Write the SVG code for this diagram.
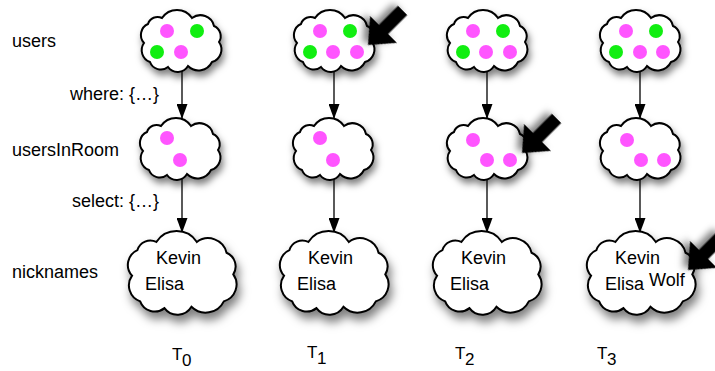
<svg xmlns="http://www.w3.org/2000/svg" xmlns:xlink="http://www.w3.org/1999/xlink" width="715" height="371" viewBox="0 0 715 371">
<style>
text{font-family:"Liberation Sans",Arial,sans-serif;font-size:18px;fill:#000}
.t{font-size:17px}
.cloud{fill:#fff;stroke:#000;stroke-width:2}
.p{fill:#ff55ff}
.g{fill:#11ee11}
.conn{stroke:#000;stroke-width:1.3;fill:none}
.big{fill:#000}
</style>
<defs>
<filter id="sh" x="-30%" y="-30%" width="170%" height="180%">
<feDropShadow dx="2" dy="5" stdDeviation="3.5" flood-color="#000" flood-opacity="0.5"/>
</filter>
<path id="cl" vector-effect="non-scaling-stroke" d="M-33,-17 A10,10 0 0 1 -19,-23 A18,18 0 0 1 11,-23 A14,14 0 0 1 33,-15 A11,11 0 0 1 38,1 A13,13 0 0 1 31,21 A15,15 0 0 1 7,25 A12,12 0 0 1 -13,26 A11.5,11.5 0 0 1 -31,21 A12.5,12.5 0 0 1 -37,2 A12,12 0 0 1 -33,-17 Z"/>
<marker id="ah" markerWidth="15" markerHeight="11" refX="15" refY="5.5" orient="auto" markerUnits="userSpaceOnUse">
<path d="M0,0 L15,5.5 L0,11 Z" fill="#000"/>
</marker>
<polygon id="bigarrow" points="0,0 -22,-19 -22,-6.5 -49,-6.5 -49,6.5 -22,6.5 -22,19"/>
</defs>

<g id="labels">
<text x="12" y="47">users</text>
<text x="70" y="100">where: {…}</text>
<text x="12" y="156">usersInRoom</text>
<text x="72" y="207">select: {…}</text>
<text x="12" y="278">nicknames</text>
</g>

<g id="connectors">
<line class="conn" x1="182" y1="70" x2="182" y2="119" marker-end="url(#ah)"/>
<line class="conn" x1="182" y1="178" x2="182" y2="233" marker-end="url(#ah)"/>
<line class="conn" x1="334" y1="70" x2="334" y2="119" marker-end="url(#ah)"/>
<line class="conn" x1="334" y1="178" x2="334" y2="233" marker-end="url(#ah)"/>
<line class="conn" x1="487" y1="70" x2="487" y2="119" marker-end="url(#ah)"/>
<line class="conn" x1="487" y1="178" x2="487" y2="233" marker-end="url(#ah)"/>
<line class="conn" x1="640" y1="70" x2="640" y2="119" marker-end="url(#ah)"/>
<line class="conn" x1="640" y1="178" x2="640" y2="233" marker-end="url(#ah)"/>
</g>

<g id="users0">
<use href="#cl" class="cloud" filter="url(#sh)" transform="translate(181,41)"/>
<circle class="p" cx="167" cy="31" r="7"/><circle class="g" cx="197" cy="31" r="7"/>
<circle class="g" cx="157" cy="52" r="7"/><circle class="p" cx="181" cy="52" r="7"/>
</g>
<g id="users1">
<use href="#cl" class="cloud" filter="url(#sh)" transform="translate(334,41)"/>
<circle class="p" cx="320" cy="31" r="7"/><circle class="g" cx="350" cy="31" r="7"/>
<circle class="g" cx="310" cy="52" r="7"/><circle class="p" cx="333" cy="52" r="7"/><circle class="p" cx="357" cy="52" r="7"/>
</g>
<g id="users2">
<use href="#cl" class="cloud" filter="url(#sh)" transform="translate(487,41)"/>
<circle class="p" cx="473" cy="31" r="7"/><circle class="g" cx="503" cy="31" r="7"/>
<circle class="g" cx="463" cy="52" r="7"/><circle class="p" cx="486" cy="52" r="7"/><circle class="p" cx="510" cy="52" r="7"/>
</g>
<g id="users3">
<use href="#cl" class="cloud" filter="url(#sh)" transform="translate(640,41)"/>
<circle class="p" cx="626" cy="31" r="7"/><circle class="g" cx="656" cy="31" r="7"/>
<circle class="g" cx="616" cy="52" r="7"/><circle class="p" cx="640" cy="52" r="7"/><circle class="p" cx="663" cy="52" r="7"/>
</g>

<g id="room0">
<use href="#cl" class="cloud" filter="url(#sh)" transform="translate(180,149)"/>
<circle class="p" cx="167" cy="138" r="7"/><circle class="p" cx="180" cy="160" r="7"/>
</g>
<g id="room1">
<use href="#cl" class="cloud" filter="url(#sh)" transform="translate(333,149)"/>
<circle class="p" cx="320" cy="138" r="7"/><circle class="p" cx="333" cy="160" r="7"/>
</g>
<g id="room2">
<use href="#cl" class="cloud" filter="url(#sh)" transform="translate(487,149)"/>
<circle class="p" cx="473" cy="140" r="7"/><circle class="p" cx="487" cy="160" r="7"/><circle class="p" cx="510" cy="160" r="7"/>
</g>
<g id="room3">
<use href="#cl" class="cloud" filter="url(#sh)" transform="translate(640,149)"/>
<circle class="p" cx="627" cy="140" r="7"/><circle class="p" cx="641" cy="160" r="7"/><circle class="p" cx="664" cy="160" r="7"/>
</g>

<g id="nick0">
<use href="#cl" class="cloud" filter="url(#sh)" transform="translate(182,273) scale(1.35)"/>
<text x="156" y="264">Kevin</text><text x="145" y="290">Elisa</text>
</g>
<g id="nick1">
<use href="#cl" class="cloud" filter="url(#sh)" transform="translate(334,273) scale(1.35)"/>
<text x="308" y="264">Kevin</text><text x="297" y="290">Elisa</text>
</g>
<g id="nick2">
<use href="#cl" class="cloud" filter="url(#sh)" transform="translate(487,273) scale(1.35)"/>
<text x="461" y="264">Kevin</text><text x="450" y="290">Elisa</text>
</g>
<g id="nick3">
<use href="#cl" class="cloud" filter="url(#sh)" transform="translate(641,273) scale(1.35)"/>
<text x="615" y="264">Kevin</text><text x="605" y="290">Elisa</text><text x="649" y="286">Wolf</text>
</g>

<g id="bigarrows" class="big">
<use href="#bigarrow" filter="url(#sh)" transform="translate(368,45) rotate(135)"/>
<use href="#bigarrow" filter="url(#sh)" transform="translate(522,153) rotate(135)"/>
<use href="#bigarrow" filter="url(#sh)" transform="translate(688,270) rotate(135)"/>
</g>

<g id="times">
<text class="t" x="172" y="360">T</text><text class="t" x="182" y="366">0</text>
<text class="t" x="307" y="358">T</text><text class="t" x="317" y="364">1</text>
<text class="t" x="455" y="359">T</text><text class="t" x="465" y="365">2</text>
<text class="t" x="597" y="359">T</text><text class="t" x="607" y="365">3</text>
</g>
</svg>
